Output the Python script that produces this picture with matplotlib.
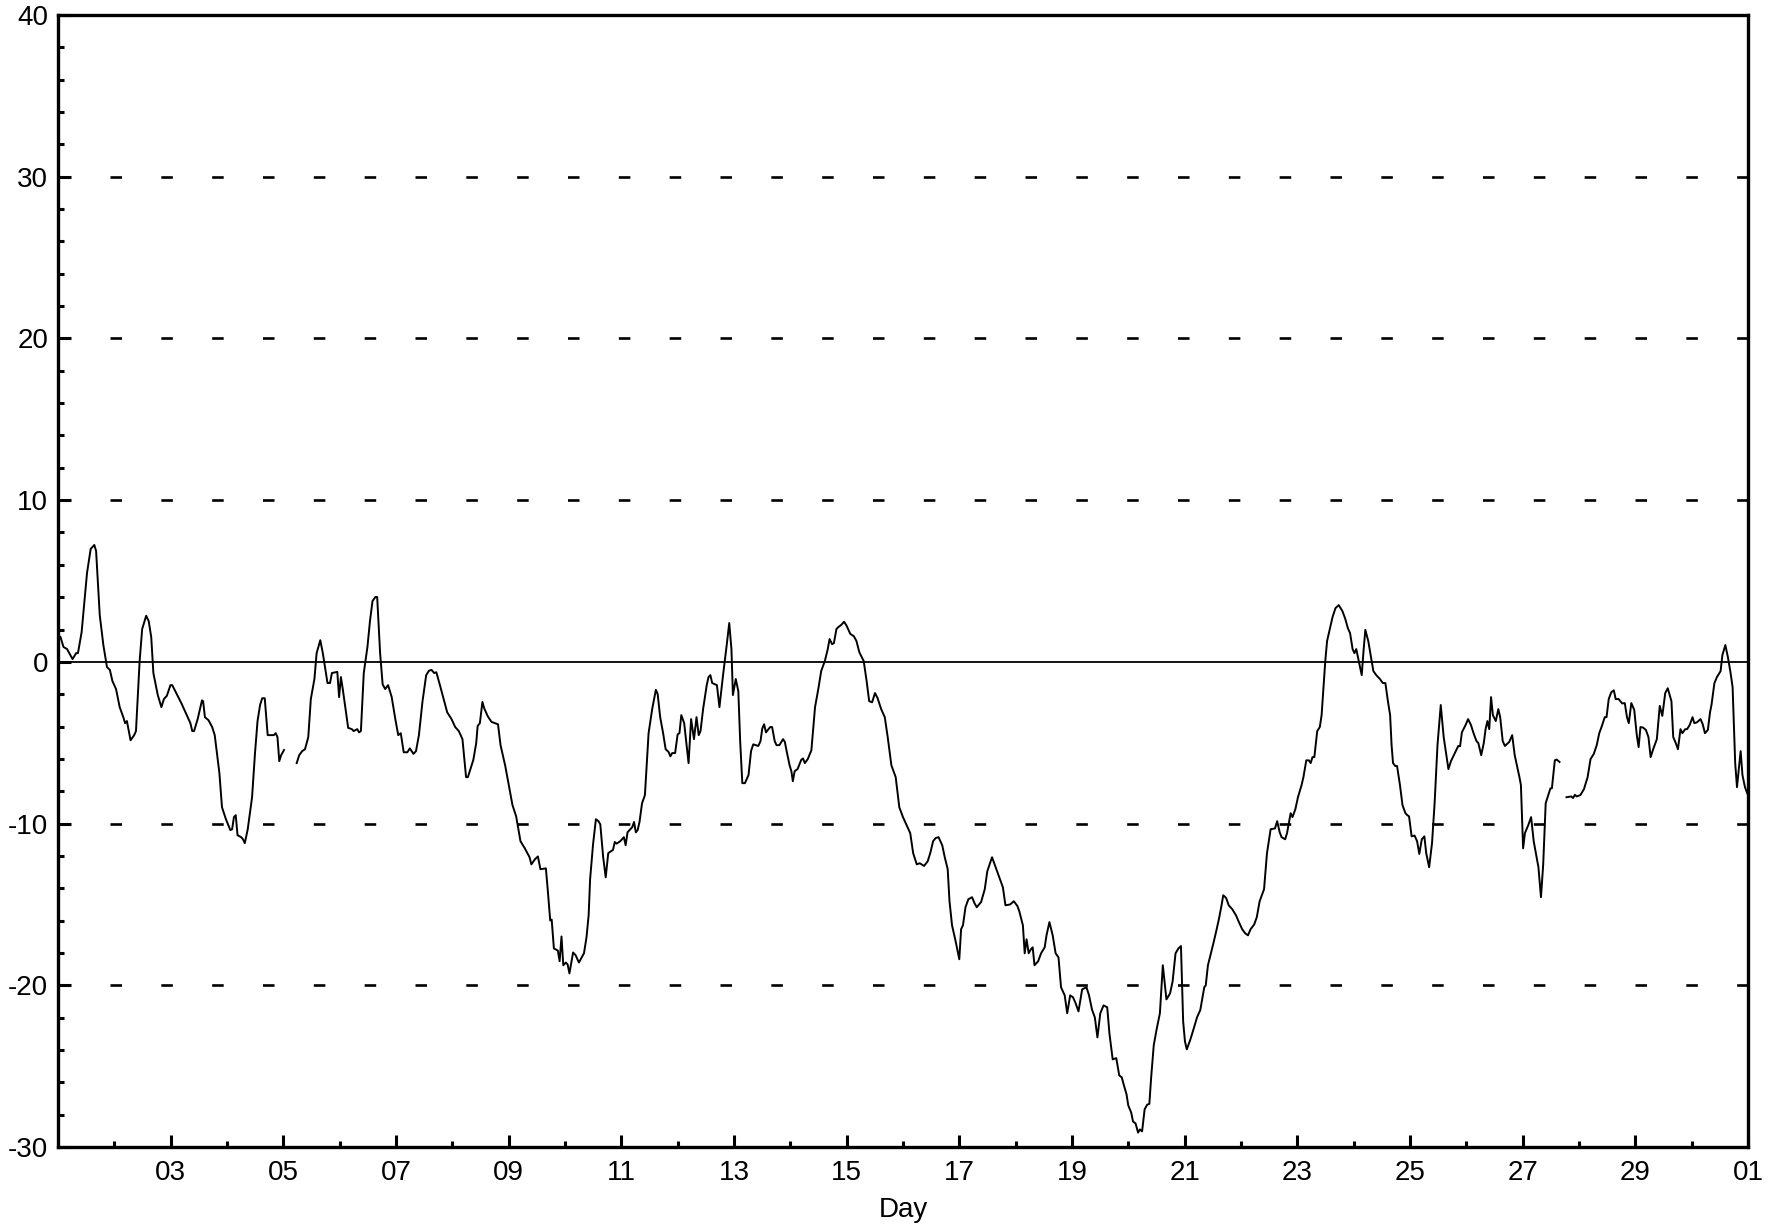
import matplotlib
matplotlib.use("Agg")
import matplotlib.pyplot as plt
import numpy as np

plt.rcParams['font.family'] = ['Liberation Sans', 'DejaVu Sans']
plt.rcParams['axes.unicode_minus'] = False
plt.rcParams['lines.scale_dashes'] = False

# first segment: day 1 to day 5
days1 = [1.02, 1.045, 1.097, 1.161, 1.258, 1.322, 1.354, 1.419, 1.515, 1.580, 1.644, 1.676,
         1.741, 1.805, 1.869, 1.921, 1.966, 2.030, 2.095, 2.159, 2.191, 2.223, 2.288, 2.352,
         2.384, 2.449, 2.494, 2.565, 2.610, 2.655, 2.693, 2.771, 2.835, 2.880, 2.932, 2.996,
         3.028, 3.189, 3.350, 3.383, 3.415, 3.479, 3.556, 3.576, 3.608, 3.672, 3.737, 3.782,
         3.865, 3.911, 3.981, 4.059, 4.091, 4.123, 4.155, 4.187, 4.252, 4.284, 4.316, 4.368,
         4.445, 4.497, 4.542, 4.587, 4.625, 4.670, 4.722, 4.831, 4.864, 4.896, 4.928, 4.961,
         5.012]
vals1 = [1.6, 1.53, 0.92, 0.79, 0.17, 0.54, 0.54, 1.83, 5.50, 6.98, 7.23, 6.86,
         2.89, 1.04, -0.32, -0.50, -1.19, -1.68, -2.80, -3.42, -3.79, -3.66, -4.85, -4.53,
         -4.28, 0.05, 2.03, 2.85, 2.52, 1.53, -0.69, -2.05, -2.80, -2.30, -2.10, -1.44,
         -1.44, -2.55, -3.79, -4.28, -4.28, -3.54, -2.38, -2.43, -3.42, -3.61, -4.03, -4.53,
         -6.88, -8.99, -9.73, -10.40, -10.35, -9.60, -9.48, -10.72, -10.84, -10.97, -11.21, -10.35,
         -8.37, -5.64, -3.66, -2.67, -2.25, -2.25, -4.53, -4.53, -4.41, -4.65, -6.14, -5.77,
         -5.45]

# second segment: day 5.2 to day 27.65
days2 = [5.237, 5.282, 5.334, 5.385, 5.443, 5.488, 5.552, 5.591, 5.656, 5.701,
         5.784, 5.829, 5.862, 5.926, 5.958, 5.990, 6.022, 6.055, 6.151, 6.216,
         6.248, 6.312, 6.344, 6.377, 6.428, 6.493, 6.538, 6.583, 6.634, 6.666,
         6.718, 6.763, 6.808, 6.860, 6.924, 6.988, 7.040, 7.085, 7.137, 7.201,
         7.246, 7.310, 7.355, 7.407, 7.471, 7.536, 7.587, 7.632, 7.677, 7.716,
         7.780, 7.845, 7.909, 7.986, 8.051, 8.115, 8.180, 8.244, 8.276, 8.373,
         8.424, 8.450, 8.489, 8.534, 8.566, 8.630, 8.695, 8.811, 8.856, 8.940,
         9.068, 9.133, 9.210, 9.287, 9.371, 9.403, 9.468, 9.519, 9.564, 9.661,
         9.693, 9.738, 9.764, 9.803, 9.873, 9.905, 9.938, 9.970, 10.015, 10.047,
         10.079, 10.144, 10.189, 10.247, 10.337, 10.382, 10.420, 10.446, 10.498, 10.549,
         10.594, 10.627, 10.678, 10.723, 10.768, 10.807, 10.852, 10.884, 10.916, 10.981,
         11.045, 11.077, 11.110, 11.194, 11.226, 11.258, 11.290, 11.323, 11.368, 11.419,
         11.484, 11.548, 11.613, 11.645, 11.690, 11.742, 11.787, 11.839, 11.871, 11.903,
         11.955, 12.0, 12.032, 12.065, 12.116, 12.194, 12.239, 12.290, 12.335, 12.374,
         12.406, 12.452, 12.516, 12.548, 12.581, 12.613, 12.697, 12.742, 12.806, 12.871,
         12.916, 12.955, 12.981, 13.032, 13.077, 13.110, 13.148, 13.194, 13.258, 13.303,
         13.342, 13.387, 13.432, 13.471, 13.503, 13.535, 13.568, 13.613, 13.645, 13.677,
         13.723, 13.755, 13.806, 13.871, 13.903, 13.935, 13.987, 14.019, 14.045, 14.077,
         14.129, 14.194, 14.226, 14.258, 14.310, 14.374, 14.439, 14.497, 14.548, 14.613,
         14.665, 14.697, 14.742, 14.774, 14.819, 14.852, 14.903, 14.955, 15.0, 15.065,
         15.129, 15.174, 15.226, 15.303, 15.355, 15.400, 15.452, 15.503, 15.548, 15.613,
         15.677, 15.729, 15.794, 15.871, 15.935, 16.0, 16.065, 16.129, 16.181, 16.245,
         16.297, 16.374, 16.439, 16.484, 16.535, 16.581, 16.632, 16.697, 16.742, 16.794,
         16.826, 16.871, 16.935, 17.0, 17.032, 17.065, 17.110, 17.161, 17.226, 17.271,
         17.310, 17.387, 17.452, 17.497, 17.581, 17.645, 17.710, 17.774, 17.819, 17.903,
         17.968, 18.032, 18.065, 18.129, 18.161, 18.194, 18.232, 18.271, 18.303, 18.335,
         18.400, 18.452, 18.516, 18.548, 18.600, 18.658, 18.710, 18.761, 18.806, 18.871,
         18.916, 18.968, 19.019, 19.065, 19.116, 19.181, 19.258, 19.303, 19.355, 19.406,
         19.452, 19.503, 19.561, 19.626, 19.665, 19.723, 19.787, 19.839, 19.884, 19.923,
         19.968, 20.0, 20.052, 20.084, 20.129, 20.174, 20.206, 20.245, 20.290, 20.335,
         20.374, 20.406, 20.452, 20.503, 20.561, 20.613, 20.677, 20.742, 20.787, 20.839,
         20.890, 20.935,
         20.974, 21.006, 21.039, 21.103, 21.168, 21.220, 21.278, 21.317, 21.349, 21.375,
         21.414, 21.459, 21.511, 21.556, 21.608, 21.653, 21.686, 21.737, 21.783, 21.847,
         21.912, 21.957, 22.022, 22.074, 22.125, 22.171, 22.235, 22.281, 22.332, 22.410,
         22.462, 22.527, 22.604, 22.643, 22.688, 22.721, 22.785, 22.818, 22.850, 22.882,
         22.915, 22.966, 23.012, 23.076, 23.109, 23.160, 23.206, 23.238, 23.270, 23.303,
         23.354, 23.400, 23.432, 23.464, 23.497, 23.529, 23.561, 23.626, 23.678, 23.736,
         23.801, 23.853, 23.898, 23.937, 23.982, 24.014, 24.047, 24.092, 24.144, 24.176,
         24.208, 24.260, 24.306, 24.351, 24.402, 24.467, 24.519, 24.564, 24.609, 24.648,
         24.674, 24.700, 24.739, 24.771, 24.823, 24.868, 24.920, 24.953, 24.984, 25.030,
         25.082, 25.127, 25.166, 25.211, 25.256, 25.289, 25.341, 25.392, 25.438, 25.489,
         25.547, 25.599, 25.683, 25.728, 25.780, 25.858, 25.890, 25.922, 25.987, 26.032,
         26.084, 26.129, 26.181, 26.214, 26.265, 26.311, 26.343, 26.375, 26.408, 26.440,
         26.472, 26.524, 26.569, 26.602, 26.647, 26.686, 26.763, 26.815, 26.860, 26.944,
         26.970, 27.009, 27.041, 27.100, 27.151, 27.197, 27.281, 27.326, 27.365, 27.410,
         27.455, 27.494, 27.520, 27.572, 27.604, 27.656]
vals2 = [-6.26, -5.77, -5.52, -5.40, -4.65, -2.30, -1.06, 0.54, 1.34, 0.54,
         -1.31, -1.31, -0.69, -0.64, -0.62, -2.18, -0.94, -1.68, -4.08, -4.16,
         -4.28, -4.16, -4.36, -4.28, -0.69, 0.92, 2.52, 3.76, 4.01, 4.01,
         0.54, -1.39, -1.68, -1.44, -2.18, -3.54, -4.53, -4.41, -5.59, -5.59,
         -5.35, -5.69, -5.52, -4.53, -2.43, -0.82, -0.54, -0.50, -0.69, -0.64,
         -1.44, -2.30, -3.12, -3.54, -4.03, -4.28, -4.78, -7.13, -7.13, -6.06,
         -5.02, -3.96, -3.79, -2.48, -2.87, -3.37, -3.71, -3.86, -5.15, -6.44,
         -8.86, -9.55, -11.09, -11.53, -12.08, -12.52, -12.20, -12.03, -12.82, -12.77,
         -14.06, -15.99, -15.94, -17.72, -17.85, -18.51, -16.98, -18.76, -18.59, -18.71,
         -19.26, -17.97, -18.14, -18.59, -18.02, -17.03, -15.67, -13.44, -11.29, -9.73,
         -9.85, -10.05, -12.08, -13.32, -11.83, -11.73, -11.63, -11.14, -11.24, -11.09,
         -10.84, -11.34, -10.54, -10.22, -9.90, -10.54, -10.40, -9.90, -8.74, -8.24,
         -4.41, -2.92, -1.73, -1.98, -3.42, -4.41, -5.40, -5.57, -5.84, -5.64,
         -5.64, -4.48, -4.41, -3.29, -3.79, -6.26, -3.54, -4.78, -3.42, -4.53,
         -4.28, -2.92, -1.44, -0.94, -0.82, -1.31, -1.44, -2.80, -0.82, 1.04,
         2.40, 0.79, -2.05, -1.06, -1.81, -4.90, -7.50, -7.50, -7.00, -5.52,
         -5.10, -5.15, -5.20, -4.90, -4.11, -3.86, -4.36, -4.16, -4.03, -4.03,
         -4.90, -5.15, -5.15, -4.78, -4.95, -5.52, -6.39, -6.76, -7.38, -6.76,
         -6.63, -6.06, -5.97, -6.26, -6.01, -5.47, -2.80, -1.68, -0.57, 0.05,
         0.79, 1.41, 1.09, 1.16, 2.03, 2.15, 2.28, 2.48, 2.23, 1.73,
         1.58, 1.29, 0.59, 0.05, -1.19, -2.43, -2.50, -1.93, -2.23, -2.92,
         -3.42, -4.65, -6.39, -7.13, -8.99, -9.60, -10.10, -10.59, -11.83, -12.52,
         -12.45, -12.62, -12.33, -11.83, -11.09, -10.89, -10.84, -11.34, -12.08, -12.82,
         -14.80, -16.29, -17.28, -18.39, -16.53, -16.29, -15.17, -14.68, -14.55, -14.93,
         -15.17, -14.85, -14.06, -12.95, -12.08, -12.70, -13.32, -13.94, -15.05, -15.00,
         -14.80, -15.10, -15.42, -16.29, -18.02, -17.15, -18.02, -17.77, -17.65, -18.76,
         -18.51, -18.02, -17.65, -16.91, -16.09, -16.91, -18.02, -18.27, -20.12, -20.62,
         -21.73, -20.62, -20.74, -21.11, -21.61, -20.25, -20.12, -20.62, -21.49, -21.98,
         -23.22, -21.73, -21.24, -21.36, -22.97, -24.58, -24.50, -25.57, -25.69, -26.19,
         -26.73, -27.43, -27.87, -28.42, -28.54, -29.11, -28.91, -29.03, -27.67, -27.38,
         -27.33, -25.69, -23.71, -22.72, -21.73, -18.76, -20.87, -20.50, -19.75, -18.02,
         -17.72, -17.57,
         -22.23, -23.47, -23.96, -23.34, -22.60, -21.98, -21.53, -20.74, -20.12, -20.00,
         -18.76, -18.14, -17.40, -16.73, -15.92, -15.10, -14.43, -14.60, -15.05, -15.30,
         -15.67, -16.04, -16.53, -16.78, -16.91, -16.53, -16.24, -15.79, -14.80, -14.06,
         -11.83, -10.35, -10.30, -9.85, -10.54, -10.84, -10.97, -10.59, -9.98, -9.36,
         -9.60, -9.11, -8.37, -7.62, -7.13, -6.09, -6.09, -6.26, -5.89, -5.89,
         -4.28, -4.03, -3.29, -1.68, 0.05, 1.29, 1.78, 2.77, 3.32, 3.51,
         3.14, 2.65, 2.08, 1.78, 0.79, 0.54, 0.79, 0.05, -0.82, 0.67,
         1.98, 1.29, 0.35, -0.57, -0.82, -1.06, -1.31, -1.31, -2.43, -3.29,
         -5.15, -6.26, -6.44, -6.44, -7.62, -8.86, -9.36, -9.48, -9.55, -10.79,
         -10.74, -11.09, -11.88, -10.97, -10.79, -11.83, -12.70, -11.21, -8.74, -5.15,
         -2.67, -4.65, -6.63, -6.14, -5.77, -5.20, -5.22, -4.36, -3.91, -3.54,
         -3.91, -4.41, -4.90, -5.02, -5.77, -5.02, -4.16, -3.66, -4.16, -2.18,
         -3.29, -3.66, -2.92, -3.42, -4.90, -5.20, -4.95, -4.53, -5.77, -7.13,
         -7.62, -11.53, -10.59, -10.10, -9.60, -11.09, -12.70, -14.55, -12.57, -8.74,
         -8.24, -7.82, -7.82, -6.09, -6.04, -6.19]

# third segment: day 27.8 to the end of the month
days3 = [27.779, 27.863, 27.895, 27.928, 27.960, 28.025, 28.089, 28.154, 28.206, 28.264,
         28.316, 28.361, 28.413, 28.458, 28.490, 28.529, 28.574, 28.620, 28.652, 28.704,
         28.768, 28.814, 28.853, 28.885, 28.930, 28.982, 29.027, 29.060, 29.092, 29.137,
         29.189, 29.234, 29.273, 29.318, 29.383, 29.435, 29.480, 29.532, 29.577, 29.642,
         29.674, 29.719, 29.758, 29.803, 29.836, 29.887, 29.920, 29.965, 30.017, 30.049,
         30.094, 30.159, 30.198, 30.237, 30.289, 30.327, 30.353, 30.405, 30.450, 30.515,
         30.547, 30.599, 30.644, 30.690, 30.728, 30.774, 30.806, 30.838, 30.871, 30.903,
         30.948, 30.987]
vals3 = [-8.37, -8.32, -8.42, -8.22, -8.32, -8.24, -7.87, -7.13, -6.01, -5.69,
         -5.15, -4.41, -3.91, -3.42, -3.42, -2.30, -1.88, -1.76, -2.30, -2.30,
         -2.57, -2.55, -3.42, -3.79, -2.55, -2.97, -4.53, -5.27, -4.03, -4.06,
         -4.21, -4.65, -5.89, -5.40, -4.78, -2.72, -3.34, -1.93, -1.63, -2.43,
         -4.65, -5.02, -5.40, -4.16, -4.41, -4.16, -4.16, -3.91, -3.42, -3.79,
         -3.74, -3.54, -3.86, -4.41, -4.21, -3.12, -2.67, -1.31, -0.94, -0.57,
         0.42, 1.04, 0.30, -0.64, -1.56, -6.26, -7.75, -6.63, -5.52, -7.00,
         -7.75, -8.12]

tick_days = list(range(3, 32, 2))
tick_labels = ['%02d' % d for d in range(3, 31, 2)] + ['01']
grid_levels = [-20, -10, 10, 20, 30]

fig = plt.figure(figsize=(17.74, 12.26), dpi=100)
ax = fig.add_axes([0.0327, 0.0644, 0.9526, 0.9234])

for y in grid_levels:
    ax.axhline(y, xmin=0.0305, color='black', lw=1.9, dashes=(8.3, 28.3))
ax.axhline(0, color='black', lw=1.3)

for d, v in [(days1, vals1), (days2, vals2), (days3, vals3)]:
    ax.plot(d, v, color='black', lw=1.4)

ax.set_xlim(1, 31)
ax.set_ylim(-30, 40)
ax.set_xticks(tick_days)
ax.set_xticklabels(tick_labels)
ax.set_xticks(range(2, 31, 2), minor=True)
ax.set_yticks(range(-30, 41, 10))
ax.set_yticks(range(-30, 41, 2), minor=True)

ax.tick_params(which='both', direction='in', top=False, right=False, width=2.2,
               labelsize=20)
ax.tick_params(which='major', length=9)
ax.tick_params(which='minor', length=4.5)
ax.tick_params(axis='x', which='major', pad=9)
ax.tick_params(axis='y', which='major', pad=7)
for s in ax.spines.values():
    s.set_linewidth(2.4)

ax.set_xlabel('Day', fontsize=20, labelpad=8)

fig.savefig('out.png', dpi=100)
